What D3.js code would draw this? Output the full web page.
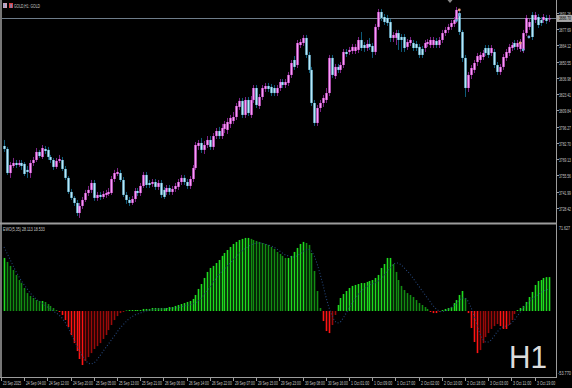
<!DOCTYPE html>
<html><head><meta charset="utf-8">
<script src="https://cdn.jsdelivr.net/npm/d3@7"></script>
<style>html,body{margin:0;padding:0;background:#000;overflow:hidden}</style>
</head><body>
<svg id="c" width="572" height="388"></svg>
<script>
const opens = [3780.2,3777.7,3757.6,3763.5,3766.0,3764.3,3766.0,3765.2,3760.2,3757.6,
3766.0,3768.5,3775.2,3771.0,3777.7,3776.9,3771.0,3768.5,3762.7,3767.7,
3768.5,3761.0,3753.5,3741.8,3736.8,3732.6,3724.2,3730.1,3735.1,3740.9,
3743.5,3749.3,3736.8,3739.3,3737.6,3739.3,3740.1,3740.9,3752.6,3756.8,
3757.6,3751.8,3739.3,3735.1,3732.6,3735.9,3742.6,3740.9,3746.8,3756.0,
3749.3,3748.5,3750.1,3746.0,3749.3,3743.5,3741.8,3745.1,3741.8,3744.3,
3746.0,3750.1,3753.5,3750.1,3746.8,3752.6,3761.8,3780.2,3782.7,3776.9,
3781.0,3785.2,3779.4,3788.5,3792.7,3788.5,3794.4,3793.6,3798.6,3801.1,
3804.4,3812.8,3817.8,3806.1,3818.6,3806.1,3818.6,3828.6,3813.6,3821.1,
3827.8,3830.3,3829.5,3828.6,3824.4,3828.6,3833.6,3831.1,3832.8,3839.5,
3852.0,3847.8,3864.5,3866.2,3870.4,3856.2,3843.7,3816.1,3799.4,3811.9,
3816.1,3818.6,3824.4,3853.7,3838.6,3846.2,3843.7,3847.8,3858.7,3858.7,
3859.5,3859.5,3860.4,3868.7,3864.5,3862.0,3865.4,3863.7,3858.7,3879.6,
3892.1,3887.9,3887.1,3883.7,3870.4,3870.4,3874.5,3871.2,3871.2,3862.9,
3866.2,3866.2,3865.4,3862.9,3861.2,3862.0,3865.4,3864.5,3864.5,3867.9,
3864.5,3868.7,3874.5,3877.1,3879.6,3882.1,3885.4,3891.2,3875.4,3853.7,
3828.6,3839.5,3843.7,3850.3,3852.0,3854.5,3862.0,3862.0,3857.8,3858.7,
3847.8,3842.0,3846.2,3853.7,3857.8,3862.0,3866.2,3862.9,3861.2,3860.4,
3874.5,3879.6,3889.6,3885.4,3887.9,3885.4,3885.4,3887.1,3886.0];
const highs = [3785.2,3779.4,3766.8,3770.2,3768.5,3768.5,3768.5,3766.8,3763.5,3768.5,
3771.0,3778.5,3776.9,3781.0,3780.2,3779.4,3772.7,3770.2,3770.2,3772.7,
3771.0,3763.5,3755.1,3744.3,3738.4,3735.1,3732.6,3737.6,3743.5,3746.8,
3751.8,3751.8,3741.8,3741.8,3742.6,3743.5,3745.1,3755.1,3760.2,3761.8,
3760.2,3754.3,3741.8,3737.6,3738.4,3745.1,3745.1,3749.3,3758.5,3758.5,
3751.8,3752.6,3752.6,3751.8,3751.8,3746.0,3747.6,3747.6,3746.8,3749.3,
3752.6,3756.0,3756.0,3752.6,3755.1,3764.3,3783.5,3785.2,3786.9,3784.4,
3788.5,3788.5,3791.0,3795.2,3796.1,3798.6,3801.1,3803.6,3806.1,3808.6,
3816.1,3820.3,3820.3,3821.1,3821.1,3821.9,3831.1,3831.1,3823.6,3831.1,
3832.8,3832.8,3832.0,3831.1,3831.1,3836.1,3836.1,3836.1,3842.0,3852.0,
3855.3,3868.7,3869.5,3872.9,3872.9,3858.7,3846.2,3818.6,3814.4,3818.6,
3822.8,3828.6,3856.2,3856.2,3848.7,3848.7,3850.3,3861.2,3861.2,3862.9,
3865.4,3865.4,3871.2,3875.4,3867.0,3868.7,3870.4,3866.2,3882.1,3894.6,
3894.6,3890.4,3889.6,3886.2,3875.4,3877.1,3877.1,3873.7,3873.7,3869.5,
3871.2,3868.7,3867.9,3865.4,3863.7,3868.7,3869.5,3871.2,3871.2,3870.4,
3871.2,3877.1,3879.6,3882.1,3885.4,3887.9,3896.3,3893.8,3877.1,3856.2,
3842.0,3847.8,3852.0,3857.8,3858.7,3860.4,3864.5,3864.5,3864.5,3861.2,
3850.3,3848.7,3857.0,3861.2,3865.4,3867.0,3868.7,3868.7,3869.5,3877.1,
3889.6,3886.2,3892.1,3892.1,3890.4,3887.9,3890.4,3889.6,3889.6];
const lows = [3775.2,3756.0,3753.5,3761.8,3761.8,3762.7,3760.2,3755.1,3753.5,3753.5,
3763.5,3766.8,3770.2,3769.3,3773.5,3768.5,3766.0,3760.2,3761.0,3766.0,
3759.3,3751.8,3740.1,3735.1,3730.1,3721.7,3720.1,3727.6,3733.4,3738.4,
3740.9,3734.3,3734.3,3735.1,3735.9,3736.8,3738.4,3739.3,3750.1,3755.1,
3750.1,3737.6,3731.8,3730.1,3730.9,3733.4,3738.4,3738.4,3745.1,3745.1,
3745.1,3746.0,3743.5,3743.5,3736.8,3735.9,3739.3,3739.3,3739.3,3741.8,
3743.5,3747.6,3747.6,3744.3,3744.3,3750.1,3760.2,3776.9,3774.3,3773.5,
3778.5,3776.9,3776.9,3786.0,3786.0,3786.0,3791.0,3790.2,3795.2,3798.6,
3801.9,3810.3,3803.6,3803.6,3805.2,3803.6,3816.1,3811.9,3811.1,3818.6,
3825.3,3825.3,3821.9,3821.9,3821.9,3826.1,3828.6,3828.6,3830.3,3837.0,
3843.7,3845.3,3862.0,3863.7,3853.7,3841.1,3813.6,3796.9,3796.9,3808.6,
3812.8,3816.1,3821.9,3837.0,3836.1,3841.1,3841.1,3845.3,3854.5,3856.2,
3857.0,3857.0,3857.8,3859.5,3858.7,3859.5,3860.4,3853.7,3856.2,3877.1,
3884.6,3881.2,3880.4,3867.0,3867.0,3864.5,3860.4,3858.7,3858.7,3860.4,
3863.7,3859.5,3859.5,3853.7,3853.7,3858.7,3862.9,3862.0,3862.0,3862.0,
3862.0,3866.2,3872.0,3874.5,3877.1,3879.6,3882.9,3872.9,3850.3,3821.1,
3825.3,3836.1,3841.1,3847.0,3849.5,3852.0,3855.3,3853.7,3855.3,3845.3,
3839.5,3839.5,3843.7,3851.2,3855.3,3859.5,3860.4,3860.4,3858.7,3857.8,
3872.0,3877.1,3868.7,3882.9,3878.7,3880.4,3882.9,3882.1,3883.7];
const closes = [3777.7,3757.6,3764.3,3766.0,3764.3,3766.0,3763.5,3756.8,3758.5,3766.0,
3768.5,3775.2,3771.8,3778.5,3776.0,3771.0,3768.5,3762.7,3767.7,3769.3,
3761.0,3753.5,3741.8,3736.8,3732.6,3724.2,3730.1,3735.1,3740.9,3743.5,
3749.3,3736.8,3739.3,3737.6,3740.1,3740.9,3741.8,3752.6,3757.6,3758.5,
3751.8,3739.3,3735.1,3732.6,3735.9,3742.6,3740.9,3746.8,3756.0,3747.6,
3747.6,3750.1,3746.0,3749.3,3739.3,3737.6,3745.1,3741.8,3744.3,3746.8,
3750.1,3753.5,3750.1,3746.8,3752.6,3761.8,3781.0,3782.7,3776.9,3781.0,
3785.2,3779.4,3788.5,3792.7,3788.5,3795.2,3798.6,3800.2,3803.6,3804.4,
3813.6,3817.8,3806.1,3818.6,3807.7,3818.6,3828.6,3814.4,3821.1,3828.6,
3830.3,3827.8,3824.4,3824.4,3828.6,3833.6,3831.1,3833.6,3839.5,3849.5,
3846.2,3866.2,3867.0,3870.4,3856.2,3843.7,3816.1,3799.4,3811.9,3816.1,
3820.3,3824.4,3853.7,3839.5,3846.2,3843.7,3847.8,3858.7,3857.0,3860.4,
3862.9,3862.9,3868.7,3862.0,3862.0,3865.4,3862.9,3858.7,3879.6,3892.1,
3887.1,3883.7,3882.9,3870.4,3872.9,3874.5,3868.7,3868.7,3862.0,3867.0,
3868.7,3862.0,3862.0,3856.2,3856.2,3866.2,3867.0,3868.7,3868.7,3864.5,
3868.7,3874.5,3877.1,3879.6,3882.9,3885.4,3893.8,3875.4,3853.7,3828.6,
3839.5,3845.3,3849.5,3855.3,3856.2,3857.8,3857.8,3856.2,3862.0,3847.8,
3842.0,3846.2,3854.5,3858.7,3862.9,3864.5,3862.9,3866.2,3867.0,3874.5,
3887.1,3883.7,3871.2,3889.6,3881.2,3882.9,3887.9,3884.6,3886.7];

const ewo = [44.0,40.7,37.4,34.0,29.9,25.7,23.2,19.1,14.9,12.5,10.8,9.1,8.3,8.3,7.5,5.8,4.2,2.5,0.8,-0.8,
-3.3,-7.5,-13.3,-19.9,-26.6,-33.2,-39.8,-44.8,-41.5,-38.2,-34.9,-31.5,-29.1,-26.6,-23.2,-19.9,-15.8,-11.6,-7.5,-4.2,-1.7,
-0.8,0.4,0.8,0.8,0.8,0.8,0.8,1.7,1.7,1.7,2.5,2.5,2.5,2.5,2.5,2.5,3.3,3.3,4.2,5.0,5.8,6.6,7.5,8.3,10.0,13.3,18.3,
22.4,27.4,32.4,35.7,37.4,39.8,42.3,45.7,48.1,50.6,53.1,55.6,57.3,58.9,59.8,60.6,60.6,59.8,58.9,58.1,57.3,56.4,55.6,54.8,53.1,51.5,49.0,47.3,45.7,44.0,
44.0,45.7,49.0,52.3,55.6,57.3,56.4,54.8,48.1,33.2,16.6,2.5,-8.3,-16.6,-18.3,-11.6,-3.3,5.0,10.8,14.1,16.6,19.1,20.8,21.6,22.4,23.2,23.2,24.1,24.9,25.7,27.4,
29.9,35.7,39.0,44.0,44.0,39.0,32.4,25.7,20.8,17.4,14.9,13.3,11.6,9.1,6.6,5.0,3.3,1.7,-0.8,-1.7,-1.7,-0.8,0.8,1.7,2.5,3.3,6.6,9.1,13.3,16.6,10.8,
-1.7,-14.1,-25.7,-34.9,-32.4,-26.6,-21.6,-18.3,-14.9,-12.5,-10.8,-12.5,-14.9,-14.9,-11.6,-7.5,-2.5,
0.8,2.5,4.2,7.5,11.6,15.8,21.6,24.9,25.7,27.4,28.1,28.113];
const signal = [53.1,48.1,43.2,38.2,33.2,29.1,24.9,21.6,18.3,14.9,12.5,10.0,8.3,6.6,5.0,3.3,1.7,0,-1.7,-3.3,
-5.8,-9.1,-13.3,-18.3,-23.2,-28.2,-33.2,-37.4,-40.7,-43.2,-44.0,-43.2,-40.7,-37.4,-34.0,-30.7,-27.4,-24.1,-20.8,-17.4,-14.1,-11.6,-9.1,-6.6,-5.0,-3.3,-2.5,-1.7,-0.8,0,
0.8,0.8,1.2,1.7,1.7,1.7,2.1,2.1,2.5,2.5,2.9,
3.3,4.2,4.6,5.0,5.8,6.6,8.3,
10.8,13.3,16.6,19.9,23.2,26.6,29.9,32.4,34.9,37.4,39.8,42.3,44.8,47.3,49.8,51.5,53.1,54.8,55.6,56.4,56.4,56.4,55.6,54.8,54.0,53.1,51.5,49.8,48.1,46.5,45.7,44.8,44.8,45.7,47.3,49.0,50.6,51.5,
49.8,45.7,39.0,30.7,21.6,11.6,3.3,-3.3,-8.3,-10.0,-9.1,-5.8,-1.7,2.5,6.6,10.0,13.3,15.8,18.3,19.9,21.6,22.4,23.2,
24.9,26.6,29.1,32.4,35.7,38.2,39.8,39.8,38.2,35.7,33.2,30.7,27.4,24.1,20.8,17.4,14.1,10.8,7.5,4.2,1.7,0,-0.8,0,0.8,2.5,4.2,6.6,9.1,10.8,10.8,
8.3,3.3,-3.3,-10.8,-18.3,-23.2,-25.7,-25.7,-24.1,-20.8,-17.4,-14.9,-13.3,-12.5,-11.6,-10.0,-7.5,-4.2,-0.8,2.5,5.0,7.5,10.0,11.6,13.3,14.9,16.6,17.4,18.533];

const timeLabels = ["23 Sep 2025","24 Sep 04:00","24 Sep 12:00","24 Sep 20:00","25 Sep 05:00","25 Sep 13:00","25 Sep 21:00","26 Sep 06:00","26 Sep 14:00","26 Sep 22:00","29 Sep 07:00","29 Sep 15:00","29 Sep 23:00","30 Sep 08:00","30 Sep 16:00","1 Oct 01:00","1 Oct 09:00","1 Oct 17:00","2 Oct 02:00","2 Oct 10:00","2 Oct 18:00","3 Oct 03:00","3 Oct 11:00","3 Oct 19:00"];
const timeLabelStep = 8;
const priceTicks = [3728.42,3741.99,3755.56,3769.13,3782.70,3796.27,3809.84,3823.41,3836.98,3850.55,3864.12,3877.69,3891.26];
const bidPrice = 3886.70;
const ewoAxisLabels = ["71.627","-53.770"];
const ewoDomain = [-53.9, 70.5];
const priceDomain = [3716.7, 3902.1];
const tradeMarks = [
  {i:157, p:3893.8, c:"#e8a27c"}, {i:157, p:3889.6, c:"#6fa8dc"}, {i:156, p:3885.0, c:"#6fa8dc"},
  {i:178, p:3866.2, c:"#e8a27c"}, {i:179, p:3860.4, c:"#6fa8dc"}, {i:181, p:3871.2, c:"#6fa8dc"}
];

const W = 572, H = 388;
const plotRight = 556, mainBottom = 222, indTop = 226, indBottom = 376, axisY = 377;
const svg = d3.select("#c");
const FONT = "'Liberation Sans', Arial, sans-serif";
const N = closes.length;

const x = d3.scaleLinear().domain([0, N - 1]).range([4, 549.2]);
const yP = d3.scaleLinear().domain(priceDomain).range([mainBottom, 0]);
const yI = d3.scaleLinear().domain(ewoDomain).range([indBottom, indTop]);

svg.append("rect").attr("width", W).attr("height", H).attr("fill", "#000");

const defs = svg.append("defs");
defs.append("clipPath").attr("id", "mainClip").append("rect").attr("x", 2).attr("y", 0).attr("width", plotRight - 2).attr("height", mainBottom);
defs.append("clipPath").attr("id", "indClip").append("rect").attr("x", 2).attr("y", 225).attr("width", plotRight - 2).attr("height", axisY - 225);

// text helper: natural glyphs squeezed horizontally to target width
function txt(g, s, xx, yy, targetW, size, fill) {
  const t = g.append("text").text(s).attr("x", 0).attr("y", 0)
    .attr("font-family", FONT).attr("font-size", size).attr("fill", fill);
  const w = t.node().getComputedTextLength() || targetW;
  t.attr("transform", `translate(${xx},${yy}) scale(${(targetW / w).toFixed(4)},1)`);
  return t;
}

// ---- main pane ----
const gMain = svg.append("g").attr("clip-path", "url(#mainClip)");
gMain.append("line").attr("x1", 0).attr("x2", plotRight).attr("y1", Math.round(yP(bidPrice)) + 0.5).attr("y2", Math.round(yP(bidPrice)) + 0.5)
  .attr("stroke", "#6e7c8a").attr("stroke-width", 1);

const idx = d3.range(N);
const up = i => closes[i] >= opens[i];
gMain.selectAll("line.wick").data(idx).join("line").attr("class", "wick")
  .attr("x1", i => Math.round(x(i)) + 0.5).attr("x2", i => Math.round(x(i)) + 0.5)
  .attr("y1", i => yP(highs[i])).attr("y2", i => yP(lows[i]))
  .attr("stroke", i => up(i) ? "#7d2486" : "#0e5a78").attr("stroke-width", 1);
gMain.selectAll("rect.body").data(idx).join("rect").attr("class", "body")
  .attr("x", i => Math.round(x(i)) - 0.7).attr("width", 2.4)
  .attr("y", i => yP(Math.max(opens[i], closes[i])))
  .attr("height", i => Math.max(1, Math.abs(yP(opens[i]) - yP(closes[i]))))
  .attr("fill", i => up(i) ? "#ee6cee" : "#86d3ef");
gMain.selectAll("line.hl").data(idx).join("line").attr("class", "hl")
  .attr("x1", i => Math.round(x(i)) + 0.5).attr("x2", i => Math.round(x(i)) + 0.5)
  .attr("y1", i => yP(Math.max(opens[i], closes[i])) + 0.5)
  .attr("y2", i => yP(Math.min(opens[i], closes[i])) - 0.5)
  .attr("stroke", i => up(i) ? "#ffb8ff" : "#d6f5ff").attr("stroke-width", 0.8).attr("opacity", 0.8);

gMain.selectAll("circle.tm").data(tradeMarks).join("circle").attr("class", "tm")
  .attr("cx", d => x(d.i)).attr("cy", d => yP(d.p)).attr("r", 1.4).attr("fill", d => d.c);

svg.append("path").attr("d", "M447.5,0 L452.5,0 L450,3 Z").attr("fill", "#8a8a8a");

// title
svg.append("rect").attr("x", 3).attr("y", 3).attr("width", 4).attr("height", 5).attr("fill", "#c9a0b8");
svg.append("rect").attr("x", 3.8).attr("y", 3.8).attr("width", 1).attr("height", 3.5).attr("fill", "#7aa8d8");
svg.append("rect").attr("x", 9).attr("y", 3).attr("width", 4).attr("height", 5).attr("fill", "#d84040");
svg.append("rect").attr("x", 10.5).attr("y", 4).attr("width", 1.2).attr("height", 4).attr("fill", "#6a9ad8");
txt(svg, "GOLD,H1: GOLD", 14, 8, 26, 6, "#c8c8c8");

// ---- indicator pane ----
const gInd = svg.append("g").attr("clip-path", "url(#indClip)");
function barColor(i) {
  const v = ewo[i], p = i > 0 ? ewo[i - 1] : v;
  if (v >= 0) return v >= p ? "#1fdc1f" : "#138c13";
  return v <= p ? "#ff1414" : "#9a0a0a";
}
gInd.selectAll("rect.h").data(idx).join("rect").attr("class", "h")
  .attr("x", i => Math.round(x(i)) - 0.3).attr("width", 1.6)
  .attr("y", i => Math.min(yI(0), yI(ewo[i])))
  .attr("height", i => Math.max(0.5, Math.abs(yI(ewo[i]) - yI(0))))
  .attr("fill", barColor);
const sigLine = d3.line().x((d, i) => x(i)).y(d => yI(d));
gInd.append("path").attr("d", sigLine(signal)).attr("fill", "none")
  .attr("stroke", "#24457a").attr("stroke-width", 1.1).attr("stroke-dasharray", "1,2");

txt(svg, "EWO(5,35) " + ewo[N - 1].toFixed(3) + " " + signal[N - 1].toFixed(3), 3, 231, 42, 6, "#c8c8c8");

// big H1
svg.append("text").attr("x", 509).attr("y", 368).text("H1")
  .attr("font-family", FONT).attr("font-size", 32).attr("fill", "#dcdcdc")
  .attr("textLength", 38).attr("lengthAdjust", "spacingAndGlyphs");

// ---- frames ----
svg.append("rect").attr("x", 0).attr("y", 0).attr("width", 2).attr("height", axisY).attr("fill", "#767676");
svg.append("rect").attr("x", 0).attr("y", 222.5).attr("width", plotRight).attr("height", 2).attr("fill", "#9c9c9c");
svg.append("line").attr("x1", plotRight + 0.5).attr("x2", plotRight + 0.5).attr("y1", 0).attr("y2", axisY + 1).attr("stroke", "#9c9c9c");
svg.append("line").attr("x1", 0).attr("x2", plotRight + 1).attr("y1", axisY + 0.5).attr("y2", axisY + 0.5).attr("stroke", "#9c9c9c");

// price axis
const gAxis = svg.append("g");
priceTicks.forEach(p => {
  const yy = Math.round(yP(p)) + 0.5;
  gAxis.append("line").attr("x1", plotRight).attr("x2", plotRight + 3).attr("y1", yy).attr("y2", yy).attr("stroke", "#9c9c9c");
  txt(gAxis, p.toFixed(2), 559, yy + 2, 12, 6, "#c8c8c8");
});
const by = yP(bidPrice);
gAxis.append("rect").attr("x", plotRight + 1).attr("y", by - 3.5).attr("width", W - plotRight).attr("height", 7).attr("fill", "#a8a8a8");
txt(gAxis, bidPrice.toFixed(2), 559, by + 2, 12, 6, "#000");

txt(gAxis, ewoAxisLabels[0], 559, 230, 11, 6, "#c8c8c8");
txt(gAxis, ewoAxisLabels[1], 558, 375, 13, 6, "#c8c8c8");

// time axis
timeLabels.forEach((s, k) => {
  const xx = Math.round(x(k * timeLabelStep)) - 2.5;
  gAxis.append("line").attr("x1", xx).attr("x2", xx).attr("y1", axisY).attr("y2", axisY + 4).attr("stroke", "#9c9c9c");
  txt(gAxis, s, xx + 1.5, 385, s.length * 1.65, 6, "#c8c8c8");
});
</script>
</body></html>
